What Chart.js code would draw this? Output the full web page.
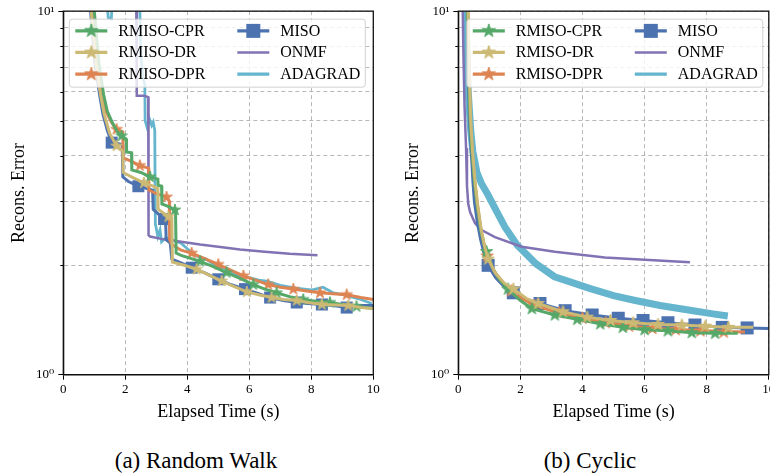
<!DOCTYPE html>
<html><head><meta charset="utf-8">
<script src="https://cdn.jsdelivr.net/npm/chart.js@4.4.0/dist/chart.umd.min.js"></script>
<style>
html,body{margin:0;padding:0;background:#fff;overflow:hidden;width:770px;height:473px;}
#wrapA{position:absolute;left:0;top:0;width:385px;height:430px;}
#wrapB{position:absolute;left:385px;top:0;width:400px;height:430px;}
.cap{position:absolute;top:449px;line-height:23px;font-family:"Liberation Serif",serif;font-size:23px;color:#000;white-space:nowrap;transform:translateX(-50%);}
</style></head>
<body>
<div id="wrapA"><canvas id="cA" width="385" height="430"></canvas></div>
<div id="wrapB"><canvas id="cB" width="400" height="430"></canvas></div>
<div class="cap" style="left:196px">(a) Random Walk</div>
<div class="cap" style="left:590px">(b) Cyclic</div>
<script>
// ---------- labels ----------
const seriesLabels = ['RMISO-CPR','RMISO-DR','RMISO-DPR','MISO','ONMF','ADAGRAD'];
const panelCaptions = ['(a) Random Walk','(b) Cyclic'];
const xTitle = 'Elapsed Time (s)';
const yTitle = 'Recons. Error';
const xTickValues = [0,2,4,6,8,10];
const yTickValues = [1,2,3,4,5,6,7,8,9,10];
const yTickText = {1:'10\u2070', 10:'10\u00b9'};

// ---------- (a) Random Walk ----------
const rwCPR = [[0.9,12],[1.0,10],[1.15,7.2],[1.3,5.9],[1.42,5.3],[1.6,4.9],[1.75,4.65],[1.88,4.54],[2.03,4.45],[2.04,4.1],[2.2,4.08],[2.21,3.66],[2.5,3.6],[2.8,3.5],[3.05,3.45],[3.06,3.32],[3.17,3.3],[3.18,2.95],[3.4,2.9],[3.6,2.84],[3.62,2.8],[3.64,2.16],[3.8,2.13],[4.41,2.05],[4.8,1.99],[5.27,1.91],[5.7,1.84],[6.13,1.77],[6.5,1.72],[6.88,1.68],[7.3,1.64],[7.74,1.61],[8.2,1.59],[8.6,1.58],[9.0,1.56],[9.46,1.54],[10,1.52]];
const rwCPRMarks = [[1.88,4.54],[2.8,3.5],[3.6,2.84],[4.41,2.05],[5.27,1.91],[6.13,1.77],[6.88,1.68],[7.74,1.61],[8.6,1.58],[9.46,1.54]];
const rwDR = [[0.8,12],[0.9,10],[1.05,7.2],[1.2,5.9],[1.32,5.2],[1.5,4.6],[1.72,4.26],[1.92,4.12],[1.93,3.6],[2.2,3.5],[2.6,3.37],[2.9,3.3],[3.05,3.25],[3.06,2.85],[3.39,2.72],[3.5,2.7],[3.52,2.04],[3.9,2.0],[4.3,1.95],[4.7,1.88],[5.11,1.81],[5.5,1.75],[5.92,1.69],[6.3,1.66],[6.72,1.63],[7.1,1.61],[7.53,1.6],[7.9,1.58],[8.34,1.56],[8.8,1.555],[9.19,1.55],[9.6,1.53],[10,1.52]];
const rwDRMarks = [[1.72,4.26],[2.6,3.37],[3.39,2.72],[4.3,1.95],[5.11,1.81],[5.92,1.69],[6.72,1.63],[7.53,1.6],[8.34,1.56],[9.19,1.55]];
const rwDPR = [[0.85,12],[0.95,10],[1.1,7.2],[1.25,5.9],[1.38,5.3],[1.55,4.95],[1.72,4.73],[1.92,4.65],[1.93,3.95],[2.2,3.86],[2.47,3.76],[2.75,3.7],[2.76,3.22],[3.0,3.15],[3.33,3.08],[3.42,3.0],[3.43,2.35],[3.5,2.28],[3.8,2.2],[4.14,2.16],[4.6,2.08],[5.0,2.01],[5.4,1.94],[5.81,1.87],[6.2,1.82],[6.61,1.77],[7.0,1.74],[7.42,1.72],[7.85,1.7],[8.28,1.68],[8.7,1.67],[9.14,1.66],[9.6,1.63],[10,1.61]];
const rwDPRMarks = [[1.72,4.73],[2.47,3.76],[3.33,3.08],[4.14,2.16],[5.0,2.01],[5.81,1.87],[6.61,1.77],[7.42,1.72],[8.28,1.68],[9.14,1.66]];
const rwMISO = [[0.78,12],[0.88,10],[1.02,7.2],[1.17,5.9],[1.28,5.2],[1.42,4.7],[1.56,4.35],[1.9,4.3],[1.92,3.5],[2.1,3.4],[2.42,3.3],[2.88,3.22],[2.9,2.85],[3.25,2.68],[3.3,2.65],[3.32,2.35],[3.45,2.3],[3.5,2.08],[3.8,2.03],[4.14,1.97],[4.6,1.9],[5.0,1.83],[5.4,1.77],[5.86,1.72],[6.3,1.67],[6.67,1.63],[7.1,1.6],[7.53,1.58],[7.9,1.57],[8.34,1.56],[8.7,1.55],[9.14,1.53],[9.6,1.55],[10,1.55]];
const rwMISOMarks = [[1.56,4.35],[2.42,3.3],[3.25,2.68],[4.14,1.97],[5.0,1.83],[5.86,1.72],[6.67,1.63],[7.53,1.58],[8.34,1.56],[9.14,1.53]];
const rwONMF = [[2.35,12],[2.37,5.85],[2.6,5.85],[2.74,5.8],[2.75,2.42],[2.8,2.4],[3.2,2.36],[3.8,2.32],[4.41,2.28],[5.0,2.25],[5.7,2.21],[6.5,2.18],[7.3,2.15],[8.2,2.13]];
const rwADA = [[1.35,12],[1.45,9.6],[1.55,9.5],[1.6,12],[2.45,12],[2.5,7.5],[2.58,6.5],[2.63,6.3],[2.64,5.0],[2.7,4.8],[2.78,5.05],[2.85,4.85],[2.9,4.95],[2.95,4.7],[2.97,2.6],[3.05,2.4],[3.12,2.5],[3.17,2.32],[3.3,2.38],[3.5,2.35],[3.8,2.3],[4.0,2.22],[4.3,2.12],[4.6,2.08],[5.0,1.98],[5.3,1.95],[5.6,1.88],[6.0,1.85],[6.3,1.82],[6.56,1.81],[7.0,1.76],[7.5,1.73],[8.0,1.71],[8.38,1.74],[8.7,1.68],[9.03,1.66],[9.5,1.62],[9.95,1.57]];

// ---------- (b) Cyclic ----------
const cyCPR = [[0.28,12],[0.33,7],[0.38,5],[0.44,4.1],[0.52,3.4],[0.6,2.95],[0.72,2.5],[0.82,2.3],[0.91,2.18],[1.1,1.97],[1.3,1.84],[1.6,1.72],[2.0,1.6],[2.37,1.52],[3.11,1.46],[3.83,1.42],[4.57,1.38],[5.3,1.35],[6.0,1.33],[6.75,1.32],[7.52,1.305],[8.27,1.3],[9.0,1.3]];
const cyCPRMarks = [[0.91,2.18],[1.6,1.72],[2.37,1.52],[3.11,1.46],[3.83,1.42],[4.57,1.38],[5.3,1.35],[6.0,1.33],[6.75,1.32],[7.52,1.305],[8.27,1.3]];
const cyDR = [[0.3,12],[0.35,7],[0.4,5],[0.46,4.1],[0.54,3.4],[0.62,2.95],[0.74,2.5],[0.85,2.25],[0.96,2.08],[1.2,1.9],[1.5,1.78],[1.77,1.72],[2.2,1.62],[2.57,1.57],[3.37,1.49],[4.15,1.44],[4.9,1.41],[5.63,1.39],[6.43,1.375],[7.2,1.37],[7.95,1.36],[8.7,1.35],[9.5,1.35]];
const cyDRMarks = [[0.96,2.08],[1.77,1.72],[2.57,1.57],[3.37,1.49],[4.15,1.44],[4.9,1.41],[5.63,1.39],[6.43,1.375],[7.2,1.37],[7.95,1.36],[8.7,1.35]];
const cyDPR = [[0.29,12],[0.34,7],[0.39,5],[0.45,4.1],[0.53,3.4],[0.61,2.95],[0.73,2.5],[0.83,2.28],[0.93,2.12],[1.15,1.93],[1.4,1.8],[1.7,1.7],[2.1,1.61],[2.5,1.55],[3.2,1.48],[4.0,1.43],[4.8,1.39],[5.6,1.36],[6.4,1.34],[7.2,1.33],[8.0,1.32],[8.6,1.315],[9.23,1.31]];
const cyDPRMarks = [[0.93,2.12],[1.7,1.7],[2.45,1.55],[3.25,1.48],[4.0,1.43],[4.75,1.39],[5.5,1.36],[6.25,1.34],[7.0,1.33],[7.8,1.32],[8.55,1.31]];
const cyMISO = [[0.27,12],[0.32,7],[0.36,5],[0.42,4.1],[0.47,3.4],[0.52,2.98],[0.62,2.6],[0.72,2.35],[0.85,2.12],[0.96,2.0],[1.2,1.85],[1.5,1.74],[1.77,1.68],[2.2,1.61],[2.63,1.57],[3.44,1.5],[4.31,1.46],[5.15,1.43],[5.95,1.41],[6.75,1.39],[7.62,1.37],[8.5,1.35],[9.3,1.345],[10,1.34]];
const cyMISOMarks = [[0.96,2.0],[1.77,1.68],[2.63,1.57],[3.44,1.5],[4.31,1.46],[5.15,1.43],[5.95,1.41],[6.75,1.39],[7.62,1.37],[8.5,1.35],[9.3,1.345]];
const cyONMF = [[0.13,12],[0.16,8],[0.2,5.5],[0.25,4.2],[0.28,3.3],[0.32,2.95],[0.38,2.8],[0.54,2.61],[0.75,2.5],[1.18,2.39],[2.04,2.25],[3.11,2.18],[4.72,2.1],[6.0,2.07],[7.46,2.04]];
const cyADA = [[0.22,12],[0.27,8],[0.32,6],[0.4,4.7],[0.47,4.1],[0.6,3.6],[0.75,3.35],[0.96,3.12],[1.2,2.85],[1.5,2.55],[1.9,2.27],[2.5,2.02],[3.1,1.86],[3.6,1.8],[4.2,1.73],[5.0,1.65],[5.7,1.6],[6.5,1.55],[7.56,1.5],[8.2,1.47],[8.68,1.45]];

// ---------- styles ----------
const seriesColors = ['#55A868','#CCB974','#DD8452','#4C72B0','#8172B3','#64B5CD'];
const seriesMarker = ['star','star','star','square',null,null];
const seriesOrder = [2,0,4,6,8,10]; // lower = drawn on top
const FONT = '"Liberation Serif", "DejaVu Serif", serif';

function markerCanvas(type, color, size) {
  const s = Math.ceil(size) + 2;
  const c = document.createElement('canvas');
  c.width = s; c.height = s;
  const g = c.getContext('2d');
  const cx = s / 2, cy = s / 2;
  g.fillStyle = color; g.strokeStyle = color; g.lineWidth = 1;
  if (type === 'star') {
    const R = size / 2, r = R * 0.381966;
    g.beginPath();
    for (let i = 0; i < 10; i++) {
      const ang = -Math.PI / 2 + i * Math.PI / 5;
      const rad = i % 2 ? r : R;
      g.lineTo(cx + rad * Math.cos(ang), cy + rad * Math.sin(ang));
    }
    g.closePath(); g.fill(); g.stroke();
  } else {
    g.fillRect(cx - size / 2, cy - size / 2, size, size);
  }
  return c;
}

const decorPlugin = {
  id: 'decor',
  afterDraw(chart, args, opts) {
    const {ctx, chartArea: a, scales: {y}} = chart;
    ctx.save();
    // minor y ticks
    ctx.strokeStyle = '#000'; ctx.lineWidth = 1;
    y.ticks.forEach(t => {
      if (t.value !== 1 && t.value !== 10) {
        const py = Math.round(y.getPixelForValue(t.value)) + 0.5;
        ctx.beginPath(); ctx.moveTo(a.left - 3, py); ctx.lineTo(a.left, py); ctx.stroke();
      }
    });
    // frame
    ctx.lineWidth = 1.3; ctx.strokeStyle = '#111';
    ctx.strokeRect(a.left, a.top, a.right - a.left, a.bottom - a.top);
    // legend
    const W = 296, H = 68;
    const bx = opts.side === 'left' ? a.left + 6 : a.right - 6 - W;
    const by = a.top + 8;
    ctx.beginPath();
    if (ctx.roundRect) ctx.roundRect(bx, by, W, H, 3); else ctx.rect(bx, by, W, H);
    ctx.fillStyle = 'rgba(255,255,255,0.8)'; ctx.fill();
    ctx.strokeStyle = 'rgba(204,204,204,0.9)'; ctx.lineWidth = 1; ctx.stroke();
    ctx.font = '16px ' + FONT; ctx.textBaseline = 'middle'; ctx.textAlign = 'left';
    const rows = [11.7, 33.3, 55];
    const cols = [{h0: 6, h1: 38, t: 49}, {h0: 168, h1: 200, t: 211}];
    seriesLabels.forEach((lab, k) => {
      const col = cols[Math.floor(k / 3)];
      const ry = by + rows[k % 3];
      ctx.strokeStyle = seriesColors[k];
      ctx.lineWidth = k === 4 ? 2.5 : 3.2;
      ctx.beginPath(); ctx.moveTo(bx + col.h0, ry); ctx.lineTo(bx + col.h1, ry); ctx.stroke();
      if (seriesMarker[k]) {
        const m = markerCanvas(seriesMarker[k], seriesColors[k], seriesMarker[k] === 'star' ? 14 : 14);
        ctx.drawImage(m, bx + (col.h0 + col.h1) / 2 - m.width / 2, ry - m.height / 2);
      }
      ctx.fillStyle = '#000';
      ctx.fillText(lab, bx + col.t, ry + 0.5);
    });
    ctx.restore();
  }
};

function buildPanel(canvasId, lines, marks, lineWidths, cfg) {
  const datasets = [];
  lines.forEach((pts, k) => {
    datasets.push({
      label: seriesLabels[k],
      data: pts.map(p => ({x: p[0], y: p[1]})),
      borderColor: seriesColors[k],
      backgroundColor: seriesColors[k],
      borderWidth: lineWidths[k],
      pointRadius: 0,
      tension: 0,
      fill: false,
      clip: 0,
      order: seriesOrder[k] + 1,
      borderJoinStyle: 'miter'
    });
    if (marks[k]) {
      datasets.push({
        label: seriesLabels[k] + ' markers',
        data: marks[k].map(p => ({x: p[0], y: p[1]})),
        showLine: false,
        pointStyle: markerCanvas(seriesMarker[k], seriesColors[k], cfg.markerSize),
        pointRadius: 5,
        borderColor: seriesColors[k],
        backgroundColor: seriesColors[k],
        order: seriesOrder[k]
      });
    }
  });
  return new Chart(document.getElementById(canvasId), {
    type: 'line',
    data: {datasets},
    plugins: [decorPlugin],
    options: {
      responsive: false,
      animation: false,
      events: [],
      layout: {padding: {left: 0, top: 7.3, right: cfg.padRight, bottom: 0}},
      plugins: {legend: {display: false}, tooltip: {enabled: false}, decor: {side: cfg.legendSide}},
      scales: {
        x: {
          type: 'linear', min: 0, max: 10,
          afterBuildTicks: s => { s.ticks = xTickValues.map(v => ({value: v})); },
          afterFit: s => { s.height = 55.3; },
          ticks: {color: '#000', font: {family: FONT, size: 13, lineHeight: 1.1}, padding: 3, maxRotation: 0, autoSkip: false},
          grid: {color: '#b8b8b8', lineWidth: 1, tickLength: 5, tickColor: '#000'},
          border: {display: true, color: '#111', width: 1.3, dash: [4, 3]},
          title: {display: true, text: xTitle, color: '#000', font: {family: FONT, size: 18}, padding: {top: 0, bottom: 7}}
        },
        y: {
          type: 'logarithmic', min: 1, max: 10,
          afterBuildTicks: s => { s.ticks = yTickValues.map(v => ({value: v})); },
          afterFit: s => { s.width = cfg.yWidth; },
          ticks: {color: '#000', font: {family: FONT, size: 13, lineHeight: 1.1}, padding: 4, autoSkip: false,
            callback: v => yTickText[v] || ''},
          grid: {color: '#b8b8b8', lineWidth: 1, tickLength: 5,
            tickColor: c => (c.tick && (c.tick.value === 1 || c.tick.value === 10)) ? '#000' : 'rgba(0,0,0,0)'},
          border: {display: true, color: '#111', width: 1.3, dash: [4, 3]},
          title: {display: true, text: yTitle, color: '#000', font: {family: FONT, size: 18}, padding: {top: cfg.yTitlePad, bottom: 0}}
        }
      }
    }
  });
}

buildPanel('cA',
  [rwCPR, rwDR, rwDPR, rwMISO, rwONMF, rwADA],
  [rwCPRMarks, rwDRMarks, rwDPRMarks, rwMISOMarks, null, null],
  [3, 3, 3, 3, 2.5, 2.8],
  {padRight: 11.7, yWidth: 63.3, yTitlePad: 8, legendSide: 'left', markerSize: 12});

buildPanel('cB',
  [cyCPR, cyDR, cyDPR, cyMISO, cyONMF, cyADA],
  [cyCPRMarks, cyDRMarks, cyDPRMarks, cyMISOMarks, null, null],
  [3, 3, 3, 3, 2.5, 7],
  {padRight: 16.2, yWidth: 73.3, yTitlePad: 17, legendSide: 'right', markerSize: 13});
</script>
</body></html>
